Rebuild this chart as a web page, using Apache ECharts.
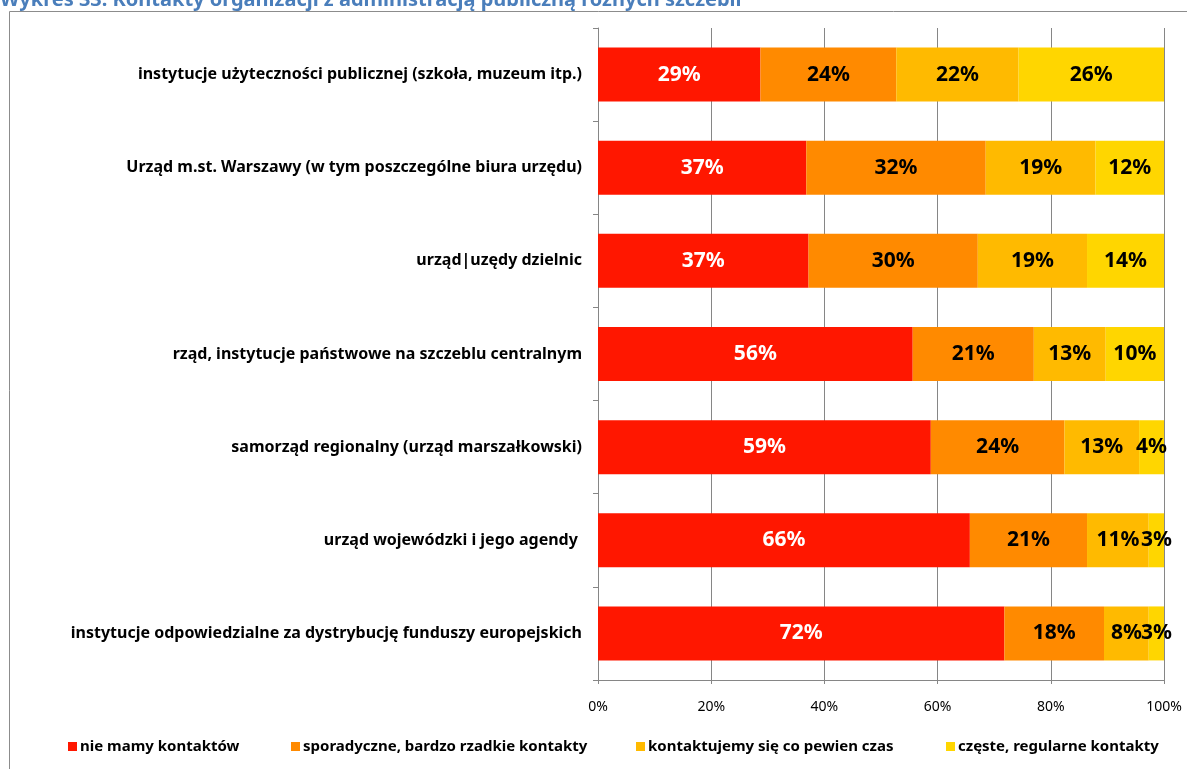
<!DOCTYPE html>
<html>
<head>
<meta charset="utf-8">
<script src="https://cdn.jsdelivr.net/npm/echarts@6/dist/echarts.min.js"></script>
<style>
  html, body { margin: 0; padding: 0; background: #fff; }
  #chart { width: 1187px; height: 769px; }
</style>
</head>
<body>
<div id="chart"></div>
<script>
// kategorie (od góry)
const categories = [
  'instytucje użyteczności publicznej (szkoła, muzeum itp.)',
  'Urząd m.st. Warszawy (w tym poszczególne biura urzędu)',
  'urząd|uzędy dzielnic',
  'rząd, instytucje państwowe na szczeblu centralnym',
  'samorząd regionalny (urząd marszałkowski)',
  'urząd wojewódzki i jego agendy ',
  'instytucje odpowiedzialne za dystrybucję funduszy europejskich'
]
const seriesNames = [
  'nie mamy kontaktów',
  'sporadyczne, bardzo rzadkie kontakty',
  'kontaktujemy się co pewien czas',
  'częste, regularne kontakty'
]
// wartości w %
const brak = [28.7, 36.8, 37.2, 55.6, 58.8, 65.7, 71.8]
const sporadyczne = [24.0, 31.7, 29.9, 21.4, 23.6, 20.7, 17.6]
const coPewienCzas = [21.6, 19.4, 19.3, 12.7, 13.2, 10.9, 7.9]
const czeste = [25.7, 12.1, 13.6, 10.3, 4.4, 2.7, 2.7]
const xTicks = [0, 20, 40, 60, 80, 100]

const colors = ['#FF1700', '#FF8A00', '#FFBA00', '#FFD600']
const values = [brak, sporadyczne, coPewienCzas, czeste]
const legendLeft = [68, 291, 636, 946]
const font = '"Noto Sans", sans-serif'

const chart = echarts.init(document.getElementById('chart'))

chart.setOption({
  animation: false,
  color: colors,
  textStyle: { fontFamily: font },
  graphic: [
    {
      type: 'rect',
      shape: { x: 9.5, y: 11.5, width: 1200, height: 800 },
      style: { fill: 'none', stroke: '#8c8c8c', lineWidth: 1 },
      silent: true
    },
    {
      type: 'text',
      x: 0,
      y: 0,
      style: {
        text: 'Wykres 33. Kontakty organizacji z administracją publiczną różnych szczebli',
        fill: '#4A7EBB',
        font: 'bold 20px "Noto Sans", sans-serif',
        verticalAlign: 'middle'
      },
      silent: true
    }
  ],
  legend: seriesNames.map((name, i) => ({
    data: [name],
    left: legendLeft[i],
    top: 739,
    padding: 0,
    itemWidth: 9,
    itemHeight: 9,
    icon: 'rect',
    selectedMode: false,
    textStyle: { fontFamily: font, fontWeight: 'bold', fontSize: 15, color: '#000', padding: [0, 0, 0, -2] }
  })),
  grid: { left: 598, right: 23, top: 28, bottom: 89 },
  xAxis: {
    type: 'value',
    min: 0,
    max: 100,
    interval: 20,
    axisLine: { show: true, lineStyle: { color: '#868686' } },
    axisTick: { show: true, length: 4, lineStyle: { color: '#868686' } },
    splitLine: { show: true, lineStyle: { color: '#868686' } },
    axisLabel: {
      margin: 20,
      fontSize: 14,
      color: '#000',
      fontFamily: font,
      formatter: v => xTicks.includes(v) ? v + '%' : ''
    }
  },
  yAxis: {
    type: 'category',
    inverse: true,
    data: categories,
    axisLine: { show: true, lineStyle: { color: '#868686' } },
    axisTick: { show: true, length: 5, lineStyle: { color: '#868686' } },
    axisLabel: {
      margin: 16,
      fontSize: 16,
      fontWeight: 'bold',
      color: '#000',
      fontFamily: font
    }
  },
  series: seriesNames.map((name, i) => ({
    name: name,
    type: 'bar',
    stack: 'total',
    barWidth: 54,
    data: values[i],
    label: {
      show: true,
      position: 'inside',
      formatter: p => Math.round(p.value) + '%',
      color: i === 0 ? '#fff' : '#000',
      fontWeight: 'bold',
      fontSize: 21,
      fontFamily: font,
      textBorderWidth: 0
    }
  }))
})
</script>
</body>
</html>
